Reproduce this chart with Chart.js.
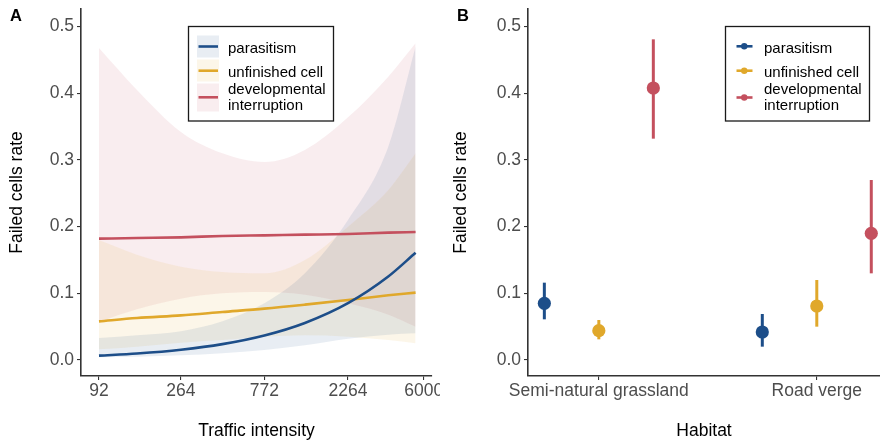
<!DOCTYPE html>
<html>
<head>
<meta charset="utf-8">
<script src="https://cdn.jsdelivr.net/npm/chart.js@4.4.1/dist/chart.umd.min.js"></script>
<style>
  html, body { margin: 0; padding: 0; background: #fff; overflow: hidden; }
  #wrap { position: relative; width: 880px; height: 440px; }
  .pane { position: absolute; top: 0; width: 440px; height: 440px; }
  .tag { position: absolute; top: 7px; font: bold 16.5px "Liberation Sans", Arial, sans-serif; line-height: 1; color: #000; }
</style>
</head>
<body>
<div id="wrap">
  <div class="pane" style="left:0"><canvas id="chartA" width="440" height="440"></canvas></div>
  <div class="pane" style="left:440px"><canvas id="chartB" width="440" height="440"></canvas></div>
  <div class="tag" style="left:10px">A</div>
  <div class="tag" style="left:457px">B</div>
</div>
<script>
// ---- Panel A: fitted failure rates along the traffic gradient ----
const trafficLevels   = [92, 150, 264, 450, 772, 1300, 2264, 3800, 5400];
const trafficTicks    = [92, 264, 772, 2264, 6000];

const parasitismFit   = [0.0065, 0.0097, 0.0154, 0.0238, 0.0368, 0.0556, 0.0853, 0.1253, 0.1609];
const parasitismLower = [0.004, 0.005, 0.007, 0.010, 0.015, 0.022, 0.032, 0.038, 0.040];
const parasitismUpper = [0.033, 0.037, 0.043, 0.058, 0.085, 0.130, 0.210, 0.320, 0.470];

const unfinishedFit   = [0.058, 0.063, 0.067, 0.072, 0.077, 0.083, 0.090, 0.097, 0.101];
const unfinishedLower = [0.016, 0.020, 0.026, 0.030, 0.035, 0.037, 0.035, 0.030, 0.025];
const unfinishedUpper = [0.180, 0.158, 0.140, 0.132, 0.130, 0.150, 0.200, 0.255, 0.310];

const interruptFit    = [0.182, 0.183, 0.184, 0.186, 0.187, 0.188, 0.189, 0.191, 0.192];
const interruptLower  = [0.057, 0.076, 0.092, 0.100, 0.102, 0.098, 0.085, 0.068, 0.050];
const interruptUpper  = [0.468, 0.405, 0.342, 0.310, 0.297, 0.315, 0.364, 0.425, 0.475];

// ---- Panel B: rates per habitat with intervals ----
const habitats        = ['Semi-natural grassland', 'Road verge'];
const parasitismRate  = [0.085, 0.042];
const parasitismLo    = [0.061, 0.020];
const parasitismHi    = [0.116, 0.069];
const unfinishedRate  = [0.044, 0.081];
const unfinishedLo    = [0.031, 0.050];
const unfinishedHi    = [0.060, 0.120];
const interruptRate   = [0.408, 0.190];
const interruptLo     = [0.332, 0.130];
const interruptHi     = [0.481, 0.270];

const rateTicks   = [0, 0.1, 0.2, 0.3, 0.4, 0.5];
const seriesNames = ['parasitism', 'unfinished cell', ['developmental', 'interruption']];

// colours
const BLUE = '#1D4E89', GOLD = '#E0A82B', ROSE = '#C4505E';
const bandOf = (hex) => {
  const n = parseInt(hex.slice(1), 16);
  return `rgba(${n >> 16},${(n >> 8) & 255},${n & 255},0.1)`;
};
const palette = [BLUE, GOLD, ROSE];

Chart.defaults.font.family = '"Liberation Sans", Arial, sans-serif';
Chart.defaults.animation = false;
Chart.defaults.events = [];
Chart.defaults.plugins.legend.display = false;
Chart.defaults.plugins.tooltip.enabled = false;

const TICK_FONT = { size: 17.5 };
const TICK_COLOR = '#4D4D4D';
const AXIS_COLOR = '#333333';

// fixed scale box size; edge labels may overhang without shrinking the plot
const fixBox = (dim, size) => (s) => {
  s[dim] = size;
  s.paddingLeft = s.paddingRight = s.paddingTop = s.paddingBottom = 0;
};

// legend drawn as a framed key box
const boxLegend = {
  id: 'boxLegend',
  afterDraw(chart, args, o) {
    const ctx = chart.ctx;
    ctx.save();
    ctx.fillStyle = '#fff';
    ctx.fillRect(o.left, o.top, o.width, o.height);
    ctx.strokeStyle = '#1a1a1a';
    ctx.lineWidth = 1.3;
    ctx.strokeRect(o.left, o.top, o.width, o.height);
    o.rows.forEach((r, i) => {
      const col = palette[i];
      if (o.kind === 'band') {
        ctx.fillStyle = bandOf(col);
        ctx.fillRect(o.keyX, r.keyTop, o.keyW, r.keyH);
      }
      ctx.strokeStyle = col;
      ctx.lineWidth = 2.6;
      ctx.beginPath();
      ctx.moveTo(o.keyX + 1.5, r.lineY);
      ctx.lineTo(o.keyX + o.keyW - 1, r.lineY);
      ctx.stroke();
      if (o.kind === 'point') {
        ctx.fillStyle = col;
        ctx.beginPath();
        ctx.arc(o.keyX + o.keyW / 2, r.lineY, 3.2, 0, Math.PI * 2);
        ctx.fill();
      }
      ctx.fillStyle = '#000';
      ctx.font = '15px "Liberation Sans", Arial, sans-serif';
      ctx.textBaseline = 'alphabetic';
      ctx.textAlign = 'left';
      const lines = [].concat(seriesNames[i]);
      lines.forEach((t, k) => ctx.fillText(t, o.textX, r.baseline + k * 16));
    });
    ctx.restore();
  }
};

// vertical interval lines under each point
const errorBars = {
  id: 'errorBars',
  beforeDatasetsDraw(chart) {
    const { ctx, scales: { x, y } } = chart;
    chart.data.datasets.forEach((ds) => {
      if (!ds.errLo) return;
      ctx.save();
      ctx.strokeStyle = ds.backgroundColor;
      ctx.lineWidth = 3;
      ds.data.forEach((p, j) => {
        const px = x.getPixelForValue(p.x);
        ctx.beginPath();
        ctx.moveTo(px, y.getPixelForValue(ds.errLo[j]));
        ctx.lineTo(px, y.getPixelForValue(ds.errHi[j]));
        ctx.stroke();
      });
      ctx.restore();
    });
  }
};

const pts = (ys) => trafficLevels.map((t, i) => ({ x: t, y: ys[i] }));

function yScale(titlePad, width) {
  return {
    type: 'linear',
    bounds: 'data',
    min: -0.024,
    max: 0.5265,
    afterBuildTicks: (s) => { s.ticks = rateTicks.map(v => ({ value: v })); },
    afterFit: fixBox('width', width),
    ticks: { color: TICK_COLOR, font: TICK_FONT, padding: 3, callback: (v) => Number(v).toFixed(1) },
    grid: { drawOnChartArea: false, drawTicks: true, tickLength: 4, tickColor: AXIS_COLOR, lineWidth: 1.1 },
    border: { display: true, color: AXIS_COLOR, width: 1.6 },
    title: { display: true, text: 'Failed cells rate', color: '#000',
             font: { size: 17.5, lineHeight: 1 }, padding: { top: titlePad, bottom: 0 } }
  };
}

function band(lo, hi, col) {
  return [
    { type: 'line', data: pts(lo), borderWidth: 0, pointRadius: 0, fill: false,
      cubicInterpolationMode: 'monotone', order: 10 },
    { type: 'line', data: pts(hi), borderWidth: 0, pointRadius: 0, fill: '-1',
      backgroundColor: bandOf(col), cubicInterpolationMode: 'monotone', order: 10 }
  ];
}
function fitLine(ys, col) {
  return { type: 'line', data: pts(ys), borderColor: col, borderWidth: 2.6, pointRadius: 0,
           fill: false, cubicInterpolationMode: 'monotone', order: 0 };
}

new Chart(document.getElementById('chartA'), {
  type: 'line',
  data: {
    datasets: [
      ...band(parasitismLower, parasitismUpper, BLUE),
      ...band(unfinishedLower, unfinishedUpper, GOLD),
      ...band(interruptLower, interruptUpper, ROSE),
      fitLine(parasitismFit, BLUE),
      fitLine(unfinishedFit, GOLD),
      fitLine(interruptFit, ROSE)
    ]
  },
  options: {
    responsive: false,
    devicePixelRatio: 1,
    layout: { autoPadding: false, padding: { top: 9, right: 8, left: 0, bottom: 0 } },
    scales: {
      x: {
        type: 'logarithmic',
        bounds: 'data',
        min: 73,
        max: 6670,
        afterBuildTicks: (s) => { s.ticks = trafficTicks.map(v => ({ value: v })); },
        afterFit: fixBox('height', 64),
        ticks: { color: TICK_COLOR, font: TICK_FONT, padding: 1, autoSkip: false, maxRotation: 0,
                 callback: (v) => String(v) },
        grid: { drawOnChartArea: false, drawTicks: true, tickLength: 4, tickColor: AXIS_COLOR, lineWidth: 1.1 },
        border: { display: true, color: AXIS_COLOR, width: 1.6 },
        title: { display: true, text: 'Traffic intensity', color: '#000',
                 font: { size: 17.5, lineHeight: 1 }, padding: { top: 0, bottom: 0 } }
      },
      y: yScale(8.25, 81)
    },
    plugins: {
      boxLegend: {
        kind: 'band', left: 188.5, top: 26.5, width: 145, height: 94.5,
        keyX: 197, keyW: 22, textX: 228,
        rows: [
          { keyTop: 35.5, keyH: 22, lineY: 46.5, baseline: 52.5 },
          { keyTop: 59.5, keyH: 22, lineY: 70.7, baseline: 76.5 },
          { keyTop: 83.5, keyH: 28, lineY: 97.3, baseline: 94 }
        ]
      }
    }
  },
  plugins: [boxLegend]
});

const dodge = [-0.25, 0, 0.25];
const pointSet = (rates, lo, hi, col, k) => ({
  data: rates.map((r, i) => ({ x: i + 1 + dodge[k], y: r })),
  errLo: lo, errHi: hi,
  backgroundColor: col, borderWidth: 0, pointRadius: 6.6
});

new Chart(document.getElementById('chartB'), {
  type: 'scatter',
  data: {
    datasets: [
      pointSet(parasitismRate, parasitismLo, parasitismHi, BLUE, 0),
      pointSet(unfinishedRate, unfinishedLo, unfinishedHi, GOLD, 1),
      pointSet(interruptRate, interruptLo, interruptHi, ROSE, 2)
    ]
  },
  options: {
    responsive: false,
    devicePixelRatio: 1,
    layout: { autoPadding: false, padding: { top: 9, right: 0, left: 0, bottom: 0 } },
    scales: {
      x: {
        type: 'linear',
        bounds: 'data',
        min: 0.675,
        max: 2.29,
        afterBuildTicks: (s) => { s.ticks = habitats.map((h, i) => ({ value: i + 1 })); },
        afterFit: fixBox('height', 64),
        ticks: { color: TICK_COLOR, font: TICK_FONT, padding: 1, autoSkip: false, maxRotation: 0,
                 callback: (v) => habitats[Math.round(v) - 1] },
        grid: { drawOnChartArea: false, drawTicks: true, tickLength: 4, tickColor: AXIS_COLOR, lineWidth: 1.1 },
        border: { display: true, color: AXIS_COLOR, width: 1.6 },
        title: { display: true, text: 'Habitat', color: '#000',
                 font: { size: 17.5, lineHeight: 1 }, padding: { top: 0, bottom: 0 } }
      },
      y: yScale(12.25, 88)
    },
    plugins: {
      boxLegend: {
        kind: 'point', left: 285.5, top: 26.5, width: 144, height: 94.5,
        keyX: 295, keyW: 18.5, textX: 324,
        rows: [
          { lineY: 46.3, baseline: 52.5 },
          { lineY: 70.7, baseline: 76.5 },
          { lineY: 97.5, baseline: 94 }
        ]
      }
    }
  },
  plugins: [errorBars, boxLegend]
});
</script>
</body>
</html>
